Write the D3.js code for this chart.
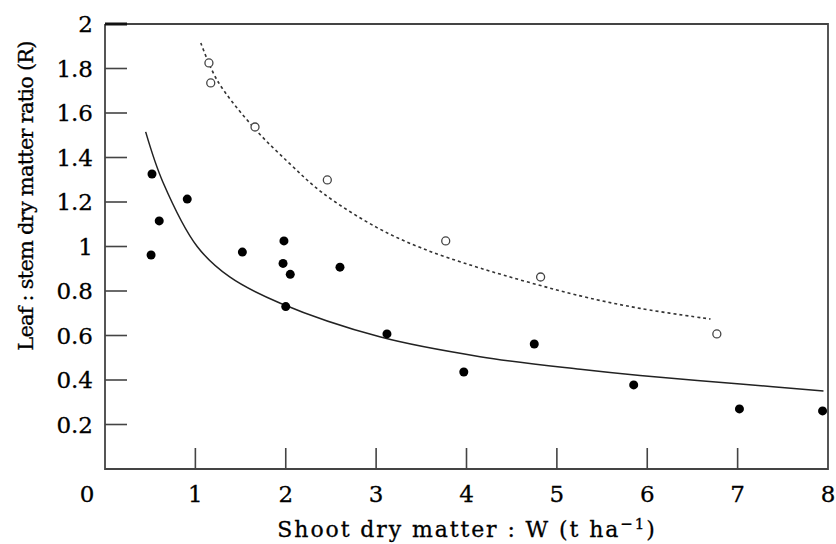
<!DOCTYPE html>
<html>
<head>
<meta charset="utf-8">
<script src="https://cdn.jsdelivr.net/npm/d3@7"></script>
<style>
  body { margin: 0; background: #fff; }
  text { font-family: "DejaVu Serif", serif; fill: #000; stroke: #000; stroke-width: 0.3; }
</style>
</head>
<body>
<div id="viz"></div>
<script>
// Observed data: filled circles (solid fit) and open circles (dashed fit)
const filledW = [0.52, 0.60, 0.91, 0.51, 1.52, 1.98, 1.97, 2.05, 2.00, 2.60, 3.12, 3.97, 4.75, 5.85, 7.02, 7.94];
const filledR = [1.326, 1.115, 1.213, 0.962, 0.975, 1.025, 0.924, 0.875, 0.73, 0.907, 0.607, 0.436, 0.562, 0.378, 0.27, 0.261];

const openW = [1.15, 1.17, 1.66, 2.46, 3.77, 4.82, 6.77];
const openR = [1.825, 1.735, 1.537, 1.299, 1.025, 0.863, 0.607];

// Fitted curves
const solidW = [0.45, 0.64, 1.02, 1.38, 1.94, 3.05, 4.15, 5.26, 5.92, 7.03, 7.95];
const solidR = [1.515, 1.29, 1.0, 0.863, 0.745, 0.593, 0.505, 0.448, 0.42, 0.382, 0.351];

const dashW = [1.06, 1.24, 1.64, 2.05, 2.41, 3.01, 3.49, 4.15, 5.26, 5.92, 6.70];
const dashR = [1.915, 1.748, 1.537, 1.37, 1.24, 1.085, 0.995, 0.903, 0.778, 0.722, 0.674];

// Ticks
const xTicks = [1, 2, 3, 4, 5, 6, 7];
const xLabels = [0, 1, 2, 3, 4, 5, 6, 7, 8];
const yTicks = [0.2, 0.4, 0.6, 0.8, 1, 1.2, 1.4, 1.6, 1.8];
const yLabels = [0.2, 0.4, 0.6, 0.8, 1, 1.2, 1.4, 1.6, 1.8, 2];

const width = 836;
const height = 544;
const margin = { top: 24, right: 8, bottom: 75, left: 105 };
const axisColor = "#444";

const svg = d3.select("#viz")
    .append("svg")
    .attr("width", width)
    .attr("height", height);

const x = d3.scaleLinear()
    .domain([0, 8])
    .range([margin.left, width - margin.right]);

const y = d3.scaleLinear()
    .domain([0, 2])
    .range([height - margin.bottom, margin.top]);

// Frame: left + bottom axes, top and right borders
svg.append("path")
    .attr("d", `M${x(0)},${y(2)}V${y(0)}H${x(8)}V${y(2)}H${x(0)}`)
    .attr("fill", "none")
    .attr("stroke", axisColor)
    .attr("stroke-width", 1.8);

// Heavier top-left tick at y = 2
svg.append("line")
    .attr("x1", x(0)).attr("x2", x(0) + 22)
    .attr("y1", y(2)).attr("y2", y(2))
    .attr("stroke", "#111")
    .attr("stroke-width", 3);

// Inward ticks
svg.selectAll(".ytick")
    .data(yTicks)
    .enter().append("line")
    .attr("class", "ytick")
    .attr("x1", x(0)).attr("x2", x(0) + 22)
    .attr("y1", d => y(d)).attr("y2", d => y(d))
    .attr("stroke", axisColor)
    .attr("stroke-width", 1.6);

svg.selectAll(".xtick")
    .data(xTicks)
    .enter().append("line")
    .attr("class", "xtick")
    .attr("x1", d => x(d)).attr("x2", d => x(d))
    .attr("y1", y(0)).attr("y2", y(0) - 21)
    .attr("stroke", axisColor)
    .attr("stroke-width", 1.6);

// Tick labels
svg.selectAll(".ylabel")
    .data(yLabels)
    .enter().append("text")
    .attr("class", "ylabel")
    .attr("x", x(0) - 12)
    .attr("y", d => y(d) + 8)
    .attr("text-anchor", "end")
    .attr("font-size", 23)
    .text(d => d);

svg.selectAll(".xlabel")
    .data(xLabels)
    .enter().append("text")
    .attr("class", "xlabel")
    .attr("x", d => d === 0 ? x(0) - 18 : x(d))
    .attr("y", y(0) + 33)
    .attr("text-anchor", "middle")
    .attr("font-size", 23)
    .text(d => d);

// Axis titles
const xt = svg.append("text")
    .attr("x", 467)
    .attr("y", 537)
    .attr("text-anchor", "middle")
    .attr("font-size", 22)
    .attr("letter-spacing", 1.9);
xt.append("tspan").text("Shoot dry matter : W (t ha");
xt.append("tspan").attr("dy", -8).attr("font-size", 15).text("\u22121");
xt.append("tspan").attr("dy", 8).text(")");

svg.append("text")
    .attr("transform", "translate(33,196) rotate(-90)")
    .attr("text-anchor", "middle")
    .attr("font-size", 21)
    .attr("letter-spacing", -0.8)
    .text("Leaf : stem dry matter ratio (R)");

// Fitted curves
const line = d3.line()
    .x(d => x(d[0]))
    .y(d => y(d[1]))
    .curve(d3.curveCatmullRom.alpha(0.5));

svg.append("path")
    .datum(d3.zip(solidW, solidR))
    .attr("d", line)
    .attr("fill", "none")
    .attr("stroke", "#222")
    .attr("stroke-width", 1.5);

svg.append("path")
    .datum(d3.zip(dashW, dashR))
    .attr("d", line)
    .attr("fill", "none")
    .attr("stroke", "#333")
    .attr("stroke-width", 1.6)
    .attr("stroke-dasharray", "3,3");

// Points
svg.selectAll(".filled")
    .data(d3.zip(filledW, filledR))
    .enter().append("circle")
    .attr("class", "filled")
    .attr("cx", d => x(d[0]))
    .attr("cy", d => y(d[1]))
    .attr("r", 4.5)
    .attr("fill", "#000");

svg.selectAll(".open")
    .data(d3.zip(openW, openR))
    .enter().append("circle")
    .attr("class", "open")
    .attr("cx", d => x(d[0]))
    .attr("cy", d => y(d[1]))
    .attr("r", 4)
    .attr("fill", "#fff")
    .attr("stroke", "#444")
    .attr("stroke-width", 1.3);
</script>
</body>
</html>
